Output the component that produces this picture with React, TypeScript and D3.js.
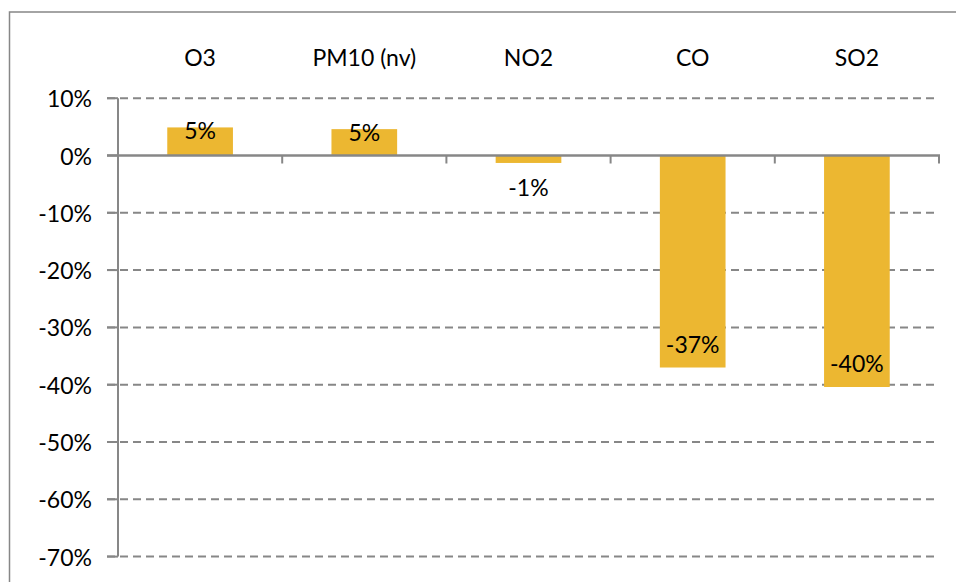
import React from "react";
import * as d3 from "d3";

const categories = ["O3", "PM10 (nv)", "NO2", "CO", "SO2"];
const values = [0.049, 0.046, -0.013, -0.37, -0.404];
const yTicks = [0.1, 0, -0.1, -0.2, -0.3, -0.4, -0.5, -0.6, -0.7];

const W = 956;
const H = 582;
const FONT = "Lato, 'Open Sans', sans-serif";
const GRAY = "#878787";
const BAR = "#ECB731";
const FS = 23;

export default function App() {
  const x = d3
    .scaleBand<string>()
    .domain(categories)
    .range([118, 939])
    .paddingInner(0.6)
    .paddingOuter(0.3);
  const y = d3.scaleLinear().domain([-0.7, 0.1]).range([556.6, 98.2]);
  const fmt = (v: number) => `${Math.round(v * 100)}%`;
  const y0 = y(0);
  const step = x.step();
  const catEdges = d3.range(categories.length + 1).map((i) => 118 + i * step);

  return (
    <svg
      width={W}
      height={H}
      style={{ position: "absolute", left: 0, top: 0, background: "#fff" }}
      fontFamily={FONT}
    >
      <rect x={9.5} y={12} width={960} height={600} fill="#fff" stroke={GRAY} strokeWidth={1.5} />
      {/* gridlines */}
      {yTicks
        .filter((t) => t !== 0)
        .map((t) => (
          <line
            key={t}
            x1={107}
            x2={938}
            y1={y(t)}
            y2={y(t)}
            stroke={GRAY}
            strokeWidth={2}
            strokeDasharray="8,5"
          />
        ))}
      {/* y tick labels */}
      {yTicks.map((t) => (
        <text
          key={"l" + t}
          x={92}
          y={y(t)}
          textAnchor="end"
          dominantBaseline="central"
          fontSize={FS}
          fill="#000"
        >
          {fmt(t)}
        </text>
      ))}
      {/* bars */}
      {categories.map((c, i) => {
        const v = values[i];
        const top = Math.min(y(v), y0);
        const h = Math.abs(y(v) - y0);
        return <rect key={c} x={x(c)} y={top} width={x.bandwidth()} height={h} fill={BAR} />;
      })}
      {/* axes */}
      <line x1={118} x2={118} y1={y(0.1)} y2={y(-0.7)} stroke={GRAY} strokeWidth={2} />
      {yTicks.map((t) => (
        <line key={"t" + t} x1={107} x2={118} y1={y(t)} y2={y(t)} stroke={GRAY} strokeWidth={2} />
      ))}
      <line x1={107} x2={940} y1={y0} y2={y0} stroke={GRAY} strokeWidth={2.5} />
      {catEdges.map((e, i) => (
        <line key={"c" + i} x1={e} x2={e} y1={y0} y2={y0 + 8} stroke={GRAY} strokeWidth={2} />
      ))}
      {/* category labels */}
      {categories.map((c) => (
        <text
          key={"cat" + c}
          x={(x(c) as number) + x.bandwidth() / 2}
          y={57}
          textAnchor="middle"
          dominantBaseline="central"
          fontSize={FS}
          fill="#000"
        >
          {c}
        </text>
      ))}
      {/* value labels */}
      {categories.map((c, i) => {
        const v = values[i];
        const len = Math.abs(y(v) - y0);
        let ly: number;
        if (v >= 0) ly = y(v) + 3;
        else if (len > 40) ly = y(v) - 24;
        else ly = y(v) + 24;
        return (
          <text
            key={"v" + c}
            x={(x(c) as number) + x.bandwidth() / 2}
            y={ly}
            textAnchor="middle"
            dominantBaseline="central"
            fontSize={FS}
            fill="#000"
          >
            {fmt(v)}
          </text>
        );
      })}
    </svg>
  );
}
